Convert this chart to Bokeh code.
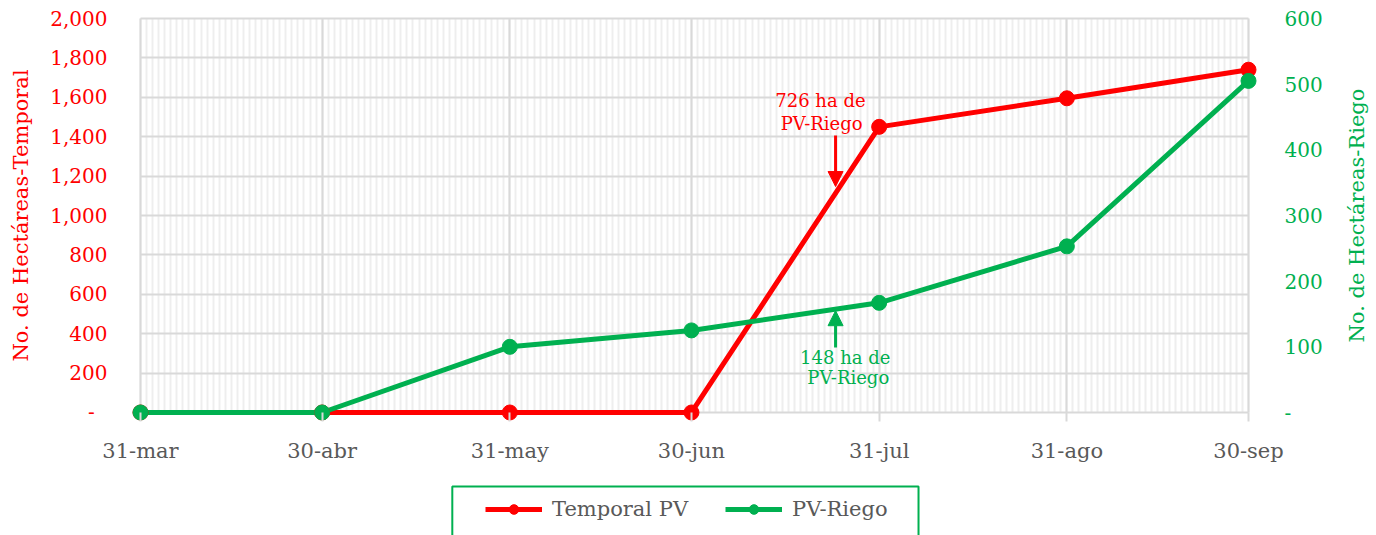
import math
import pandas as pd
from bokeh.plotting import figure
from bokeh.models import (Range1d, LinearAxis, FixedTicker, Legend, LegendItem,
                          Arrow, NormalHead, Label, NumeralTickFormatter, BoxAnnotation)
from bokeh.embed import file_html
from bokeh.resources import INLINE

# ---- data ----
dates = ["2024-03-31", "2024-04-30", "2024-05-31", "2024-06-30",
         "2024-07-31", "2024-08-31", "2024-09-30"]
tick_labels = ["31-mar", "30-abr", "31-may", "30-jun", "31-jul", "31-ago", "30-sep"]
temporal_pv = [0, 0, 0, 0, 1450, 1595, 1740]
pv_riego = [0, 0, 100, 125, 167, 253, 505]
left_ticks = [0, 200, 400, 600, 800, 1000, 1200, 1400, 1600, 1800, 2000]
right_ticks = [0, 100, 200, 300, 400, 500, 600]

RED = "#FF0000"
GREEN = "#00B050"
GRAY = "#595959"
FONT = "DejaVu Serif"

d = pd.to_datetime(dates)
days = [int(x) for x in (d - d[0]).days]
n_days = days[-1]

# the frame covers the whole canvas; axes are drawn at fixed data locations
p = figure(width=1376, height=535, x_range=Range1d(-23.12, 204.14),
           y_range=Range1d(-624.4, 2091.4), output_backend="svg",
           toolbar_location=None, min_border=0, min_border_left=0,
           min_border_right=0, min_border_top=0, min_border_bottom=0)
p.outline_line_color = None
p.extra_y_ranges = {"right": Range1d(-187.32, 627.42)}

# x axis on the zero line
xa = p.xaxis[0]
xa.fixed_location = 0
xa.ticker = FixedTicker(ticks=days, minor_ticks=list(range(0, n_days + 1)))
xa.major_label_overrides = {dd: lab for dd, lab in zip(days, tick_labels)}
xa.major_label_text_color = GRAY
xa.major_label_text_font = FONT
xa.major_label_text_font_size = "21px"
xa.major_label_standoff = 18
xa.axis_line_color = None
xa.major_tick_line_color = "#d9d9d9"
xa.major_tick_line_width = 2
xa.major_tick_out = 9
xa.major_tick_in = 0
xa.minor_tick_line_color = None
xa.minor_tick_out = 0

# left axis
ya = p.yaxis[0]
ya.fixed_location = 0
ya.ticker = FixedTicker(ticks=left_ticks)
ya.formatter = NumeralTickFormatter(format="0,0")
ya.major_label_overrides = {0: "-\u00a0\u00a0"}
ya.major_label_text_color = RED
ya.major_label_text_font = FONT
ya.major_label_text_font_size = "20px"
ya.major_label_standoff = 33
ya.axis_line_color = None
ya.major_tick_line_color = None
ya.minor_tick_line_color = None
ya.major_tick_out = 0
ya.major_tick_in = 0
ya.minor_tick_out = 0

# right axis
ra = LinearAxis(y_range_name="right", ticker=FixedTicker(ticks=right_ticks),
                fixed_location=n_days)
ra.major_label_overrides = {0: "-"}
ra.major_label_text_color = GREEN
ra.major_label_text_font = FONT
ra.major_label_text_font_size = "20px"
ra.major_label_standoff = 36
ra.axis_line_color = None
ra.major_tick_line_color = None
ra.minor_tick_line_color = None
ra.major_tick_out = 0
ra.major_tick_in = 0
ra.minor_tick_out = 0
p.add_layout(ra, "right")

# axis titles
p.add_layout(Label(x=-19.8, y=1000, text="No. de Hectáreas-Temporal", angle=math.pi / 2,
                   text_color=RED, text_font=FONT, text_font_size="21px",
                   text_align="center", text_baseline="middle"))
p.add_layout(Label(x=201.0, y=300, y_range_name="right", text="No. de Hectáreas-Riego",
                   angle=math.pi / 2, text_color=GREEN, text_font=FONT,
                   text_font_size="21px", text_align="center", text_baseline="middle"))

# grids
p.xgrid.grid_line_color = "#d9d9d9"
p.xgrid.grid_line_width = 2
p.xgrid.minor_grid_line_color = "#eeeeee"
p.xgrid.minor_grid_line_width = 2
p.xgrid.cross_bounds = (0, 2000)
p.ygrid.ticker = FixedTicker(ticks=left_ticks)
p.ygrid.grid_line_color = "#d9d9d9"
p.ygrid.grid_line_width = 2
p.ygrid.cross_bounds = (0, n_days)

# series
r_line = p.line(days, temporal_pv, line_color=RED, line_width=5)
g_line = p.line(days, pv_riego, y_range_name="right", line_color=GREEN, line_width=5)
r_pts = p.scatter(days, temporal_pv, size=15, fill_color=RED, line_color=RED)
g_pts = p.scatter(days, pv_riego, y_range_name="right", size=15,
                  fill_color=GREEN, line_color=GREEN)

# annotations
ann_day = 114.8
p.add_layout(Arrow(end=NormalHead(size=15, fill_color=RED, line_color=RED),
                   x_start=ann_day, y_start=1406, x_end=ann_day, y_end=1147,
                   line_color=RED, line_width=3))
p.add_layout(Arrow(end=NormalHead(size=15, fill_color=GREEN, line_color=GREEN),
                   x_start=ann_day, y_start=99, x_end=ann_day, y_end=155,
                   y_range_name="right", line_color=GREEN, line_width=3))
for txt, xx, yy, col in [("726 ha de", 112.3, 1586, RED), ("PV-Riego", 112.5, 1467, RED),
                         ("148 ha de", 116.4, 279, GREEN), ("PV-Riego", 116.9, 178, GREEN)]:
    p.add_layout(Label(x=xx, y=yy, text=txt, text_color=col, text_font=FONT,
                       text_font_size="18px", text_align="center",
                       text_baseline="middle"))

# legend frame (box below the chart)
p.add_layout(BoxAnnotation(left=51.5, right=128.5, top=-376, bottom=-700,
                           fill_alpha=0, line_color=GREEN, line_width=2, line_alpha=1))

legend = Legend(items=[LegendItem(label="Temporal PV", renderers=[r_line, r_pts]),
                       LegendItem(label="PV-Riego", renderers=[g_line, g_pts])],
                orientation="horizontal", location=(485, 14), padding=0,
                spacing=37, glyph_width=57, glyph_height=24, label_height=24,
                label_standoff=10, label_text_font=FONT, label_text_font_size="21px",
                label_text_color=GRAY, border_line_alpha=0, background_fill_alpha=0,
                margin=0)
p.add_layout(legend, "center")

open("out.html", "w").write(file_html(p, INLINE))
